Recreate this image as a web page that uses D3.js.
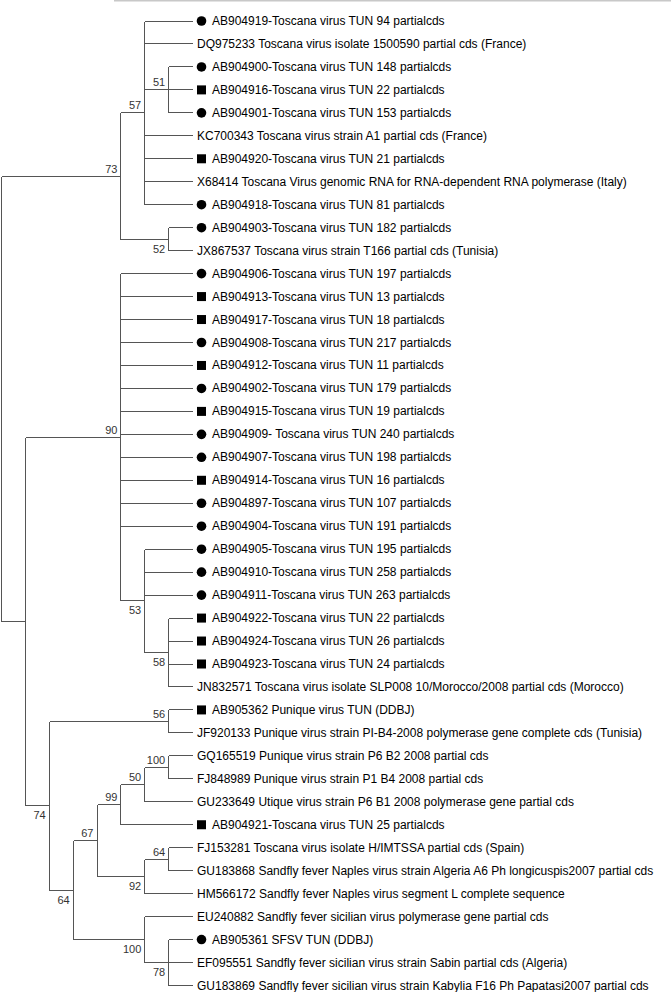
<!DOCTYPE html>
<html>
<head>
<meta charset="utf-8">
<script src="https://cdn.jsdelivr.net/npm/d3@7"></script>
<style>
  body { margin: 0; background: #fff; }
  svg { display: block; }
</style>
</head>
<body>
<script>
// leaf labels, top to bottom
var leafNames = [
  "AB904919-Toscana virus TUN 94 partialcds",
  "DQ975233 Toscana virus isolate 1500590 partial cds (France)",
  "AB904900-Toscana virus TUN 148 partialcds",
  "AB904916-Toscana virus TUN 22 partialcds",
  "AB904901-Toscana virus TUN 153 partialcds",
  "KC700343 Toscana virus strain A1 partial cds (France)",
  "AB904920-Toscana virus TUN 21 partialcds",
  "X68414 Toscana Virus genomic RNA for RNA-dependent RNA polymerase (Italy)",
  "AB904918-Toscana virus TUN 81 partialcds",
  "AB904903-Toscana virus TUN 182 partialcds",
  "JX867537 Toscana virus strain T166 partial cds (Tunisia)",
  "AB904906-Toscana virus TUN 197 partialcds",
  "AB904913-Toscana virus TUN 13 partialcds",
  "AB904917-Toscana virus TUN 18 partialcds",
  "AB904908-Toscana virus TUN 217 partialcds",
  "AB904912-Toscana virus TUN 11 partialcds",
  "AB904902-Toscana virus TUN 179 partialcds",
  "AB904915-Toscana virus TUN 19 partialcds",
  "AB904909- Toscana virus TUN 240 partialcds",
  "AB904907-Toscana virus TUN 198 partialcds",
  "AB904914-Toscana virus TUN 16 partialcds",
  "AB904897-Toscana virus TUN 107 partialcds",
  "AB904904-Toscana virus TUN 191 partialcds",
  "AB904905-Toscana virus TUN 195 partialcds",
  "AB904910-Toscana virus TUN 258 partialcds",
  "AB904911-Toscana virus TUN 263 partialcds",
  "AB904922-Toscana virus TUN 22 partialcds",
  "AB904924-Toscana virus TUN 26 partialcds",
  "AB904923-Toscana virus TUN 24 partialcds",
  "JN832571 Toscana virus isolate SLP008 10/Morocco/2008 partial cds (Morocco)",
  "AB905362 Punique virus TUN (DDBJ)",
  "JF920133 Punique virus strain PI-B4-2008 polymerase gene complete cds (Tunisia)",
  "GQ165519 Punique virus strain P6 B2 2008 partial cds",
  "FJ848989 Punique virus strain P1 B4 2008 partial cds",
  "GU233649 Utique virus strain P6 B1 2008 polymerase gene partial cds",
  "AB904921-Toscana virus TUN 25 partialcds",
  "FJ153281 Toscana virus isolate H/IMTSSA partial cds (Spain)",
  "GU183868 Sandfly fever Naples virus strain Algeria A6 Ph longicuspis2007 partial cds",
  "HM566172 Sandfly fever Naples virus segment L complete sequence",
  "EU240882 Sandfly fever sicilian virus polymerase gene partial cds",
  "AB905361 SFSV TUN (DDBJ)",
  "EF095551 Sandfly fever sicilian virus strain Sabin partial cds (Algeria)",
  "GU183869 Sandfly fever sicilian virus strain Kabylia F16 Ph Papatasi2007 partial cds"
];

// c = circle, s = square, "" = no marker
var leafMarks = [
  "c", "", "c", "s", "c", "", "s", "", "c", "c", "",
  "c", "s", "s", "c", "s", "c", "s", "c", "c", "s", "c", "c",
  "c", "c", "c", "s", "s", "s", "",
  "s", "", "", "", "", "s", "", "", "", "", "c", "", ""
];

// topology (leaf indices) with bootstrap values
var treeNewick =
  "(((0,1,(2,3,4)51,5,6,7,8)57,(9,10)52)73," +
  "((11,12,13,14,15,16,17,18,19,20,21,22,(23,24,25,(26,27,28,29)58)53)90," +
  "((30,31)56,(((((32,33)100,34)50,35)99,((36,37)64,38)92)67,(39,(40,41,42)78)100)64)74))";

function parseNewick(s) {
  var i = 0;
  function node() {
    var n = {};
    if (s[i] === "(") {
      i++;
      n.children = [];
      while (true) {
        n.children.push(node());
        if (s[i] === ",") { i++; continue; }
        if (s[i] === ")") { i++; break; }
      }
    }
    var tok = "";
    while (i < s.length && ",()".indexOf(s[i]) < 0) tok += s[i++];
    if (n.children) n.support = tok; else n.leaf = +tok;
    return n;
  }
  return node();
}

var width = 671, height = 992;

var svg = d3.select("body").append("svg")
  .attr("width", width)
  .attr("height", height);

// grey strip at the very top
svg.append("line")
  .attr("x1", 114).attr("x2", width)
  .attr("y1", 0.5).attr("y2", 0.5)
  .attr("stroke", "#c8c8c8").attr("stroke-width", 2);

var root = d3.hierarchy(parseNewick(treeNewick));

var x = d3.scaleLinear().domain([root.height, 0]).range([1, 192]);
var y = d3.scaleLinear().domain([0, leafNames.length - 1]).range([20.5, 985]);

root.eachAfter(function(d) {
  d.px = x(d.height);
  if (d.children) {
    d.py = (d.children[0].py + d.children[d.children.length - 1].py) / 2;
  } else {
    d.px = x(0);
    d.py = y(d.data.leaf);
  }
});

var snap = function(v) { return Math.round(v) + 0.5; };

var g = svg.append("g")
  .attr("stroke", "#555")
  .attr("stroke-width", 1)
  .attr("shape-rendering", "crispEdges");

// vertical lines
g.selectAll("line.v")
  .data(root.descendants().filter(function(d) { return d.children; }))
  .enter().append("line")
  .attr("class", "v")
  .attr("x1", function(d) { return snap(d.px); })
  .attr("x2", function(d) { return snap(d.px); })
  .attr("y1", function(d) { return snap(d.children[0].py); })
  .attr("y2", function(d) { return snap(d.children[d.children.length - 1].py); });

// horizontal lines
g.selectAll("line.h")
  .data(root.descendants().filter(function(d) { return d.parent; }))
  .enter().append("line")
  .attr("class", "h")
  .attr("x1", function(d) { return snap(d.parent.px); })
  .attr("x2", function(d) { return snap(d.px); })
  .attr("y1", function(d) { return snap(d.py); })
  .attr("y2", function(d) { return snap(d.py); });

// bootstrap values
svg.selectAll("text.boot")
  .data(root.descendants().filter(function(d) { return d.children && d.data.support; }))
  .enter().append("text")
  .attr("class", "boot")
  .attr("x", function(d) { return d.px - 3; })
  .attr("y", function(d) {
    var sib = d.parent.children;
    var last = sib[sib.length - 1] === d;
    return last ? d.py + 14 : d.py - 3;
  })
  .attr("text-anchor", "end")
  .attr("font-family", "Arial, 'Liberation Sans', sans-serif")
  .attr("font-size", "11px")
  .attr("fill", "#333")
  .text(function(d) { return d.data.support; });

var leaves = root.leaves();

// markers
svg.selectAll("circle.mark")
  .data(leaves.filter(function(d) { return leafMarks[d.data.leaf] === "c"; }))
  .enter().append("circle")
  .attr("class", "mark")
  .attr("cx", 201.5)
  .attr("cy", function(d) { return d.py + 0.5; })
  .attr("r", 4.8)
  .attr("fill", "#000");

svg.selectAll("rect.mark")
  .data(leaves.filter(function(d) { return leafMarks[d.data.leaf] === "s"; }))
  .enter().append("rect")
  .attr("class", "mark")
  .attr("x", 197)
  .attr("y", function(d) { return d.py - 4; })
  .attr("width", 9)
  .attr("height", 9)
  .attr("fill", "#000");

// leaf labels
svg.selectAll("text.leaf")
  .data(leaves)
  .enter().append("text")
  .attr("class", "leaf")
  .attr("x", function(d) { return leafMarks[d.data.leaf] ? 212 : 197; })
  .attr("y", function(d) { return d.py + 4.5; })
  .attr("font-family", "Arial, 'Liberation Sans', sans-serif")
  .attr("font-size", "12px")
  .attr("fill", "#000")
  .text(function(d) { return leafNames[d.data.leaf]; });
</script>
</body>
</html>
